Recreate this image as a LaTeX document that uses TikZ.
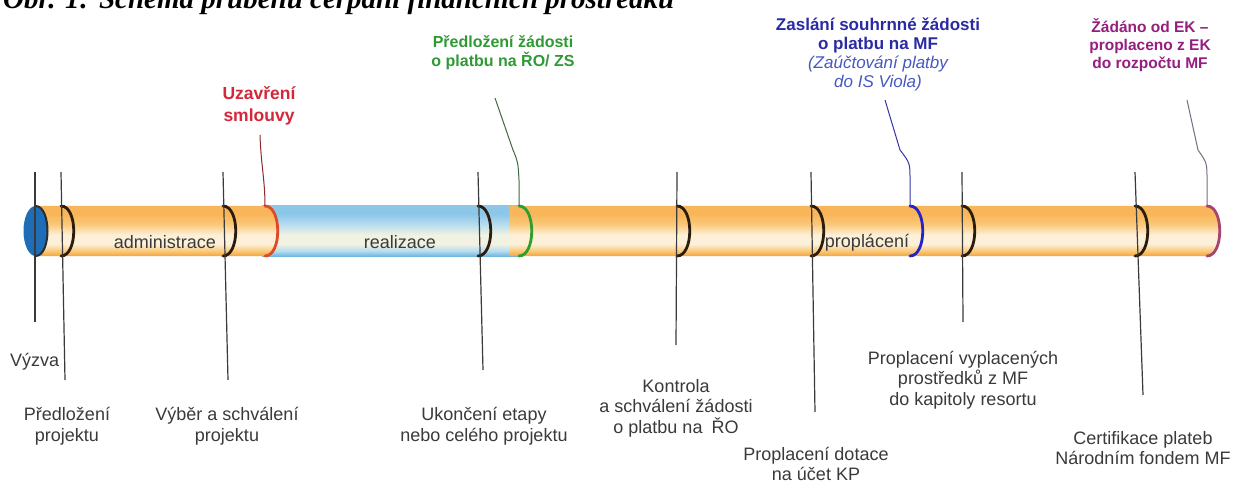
\documentclass[tikz,border=0pt]{standalone}
\usepackage{fontspec}
\setmainfont{Liberation Sans}
\newfontfamily\titlefont{Liberation Serif}
\definecolor{labgray}{HTML}{3A3A3A}
\definecolor{redlab}{HTML}{D3283A}
\definecolor{greenlab}{HTML}{2F9A35}
\definecolor{bluelab}{HTML}{2A2AA5}
\definecolor{blueit}{HTML}{4659C0}
\definecolor{maglab}{HTML}{951E7F}
\definecolor{linegray}{HTML}{3A3A3A}
\definecolor{markdark}{HTML}{2B1D0E}
\definecolor{markred}{HTML}{E04A26}
\definecolor{markgreen}{HTML}{2E9E2E}
\definecolor{markblue}{HTML}{2323C8}
\definecolor{markmag}{HTML}{A8456E}
\definecolor{capblue}{HTML}{1F6DB6}
\definecolor{otop}{HTML}{F8B55A}
\definecolor{omid}{HTML}{FAC878}
\definecolor{olight}{HTML}{FDF0D8}
\definecolor{obot}{HTML}{F4A53C}
\definecolor{btop}{HTML}{8CC7E8}
\definecolor{bmid}{HTML}{B5DCEF}
\definecolor{blight}{HTML}{F2F2E2}
\definecolor{bbot}{HTML}{72B7E0}
\definecolor{redline}{HTML}{8A2A2A}
\definecolor{greenline}{HTML}{3F6A3F}
\definecolor{blueline}{HTML}{3535A8}
\definecolor{magline}{HTML}{7A6A80}
\pgfdeclareverticalshading{orangetube}{100bp}{color(0bp)=(obot); color(25bp)=(obot); color(30bp)=(omid); color(37bp)=(olight); color(46bp)=(olight); color(57bp)=(omid); color(67bp)=(otop); color(75bp)=(otop); color(100bp)=(otop)}
\pgfdeclareverticalshading{bluetube}{100bp}{color(0bp)=(bbot); color(25bp)=(bbot); color(30bp)=(bmid); color(37bp)=(blight); color(46bp)=(blight); color(57bp)=(bmid); color(67bp)=(btop); color(75bp)=(btop); color(100bp)=(btop)}
\begin{document}
\begin{tikzpicture}[x=1pt,y=-1pt,
  toplabel/.style={align=center, inner sep=0pt, font=\bfseries\fontsize{16}{19}\selectfont},
  botlabel/.style={align=center, inner sep=0pt, text=labgray, font=\fontsize{18}{20.5}\selectfont},
  tubelabel/.style={inner sep=0pt, text=labgray, font=\fontsize{18}{20}\selectfont},
  marker/.style={line width=2.8pt, line cap=round},
  vline/.style={draw=linegray, line width=1.2pt},
  cline/.style={line width=1pt}]
\useasboundingbox (0,0) rectangle (1255,481);
\begin{scope}
\clip (0,0) rectangle (1255,481);
\fill[white] (0,0) rectangle (1255,481);
% title (cut at top)
\node[anchor=base west, inner sep=0pt, font=\titlefont\bfseries\itshape\fontsize{29}{30}\selectfont] (title) at (3,9) {Obr. 1: Schéma průběhu čerpání finančních prostředků};
% tube
\shade[shading=bluetube] (262,206) rectangle (522,256);
\shade[shading=orangetube] (35,206) -- (265,206) .. controls (282,206) and (282,256) .. (265,256) -- (35,256) -- cycle;
\shade[shading=orangetube] (509,206) -- (1207,206) .. controls (1224,206) and (1224,256) .. (1207,256) -- (509,256) -- cycle;
% left cap
\fill[capblue] (35.5,231) ellipse [x radius=12, y radius=25];
\draw[marker, markdark!80!capblue, line width=2pt] (35.5,206) .. controls (51.5,206) and (51.5,256) .. (35.5,256);
% markers
\foreach \x in {61,223,478,677,811,962,1135}
  \draw[marker, markdark] (\x,206) .. controls (\x+17,206) and (\x+17,256) .. (\x,256);
\draw[marker, markred] (265,206) .. controls (282,206) and (282,256) .. (265,256);
\draw[marker, markgreen] (519,206) .. controls (536,206) and (536,256) .. (519,256);
\draw[marker, markblue] (910,206) .. controls (927,206) and (927,256) .. (910,256);
\draw[marker, markmag] (1207,206) .. controls (1224,206) and (1224,256) .. (1207,256);
% tube texts
\node[tubelabel] (adm) at (165,242) {administrace};
\node[tubelabel] (real) at (400,242) {realizace};
\node[tubelabel] (propl) at (867,243) {proplácení};
% coordinates for vertical lines
\coordinate (t0) at (35,172);   \coordinate (b0) at (35,322);
\coordinate (t1) at (61,172);   \coordinate (b1) at (65,380);
\coordinate (t2) at (223,172);  \coordinate (b2) at (228,380);
\coordinate (t3) at (478,172);  \coordinate (b3) at (483,370);
\coordinate (t4) at (677,172);  \coordinate (b4) at (676,345);
\coordinate (t5) at (811,172);  \coordinate (b5) at (815,412);
\coordinate (t6) at (962,172);  \coordinate (b6) at (963,322);
\coordinate (t7) at (1135,172); \coordinate (b7) at (1143,395);
\foreach \i in {0,...,7} \draw[vline] (t\i) -- (b\i);
% bottom labels
\node[botlabel, anchor=west] (vyzva) at (10,362) {Výzva};
\node[botlabel] (predl) at (67,426) {Předložení\\projektu};
\node[botlabel] (vyber) at (227,426) {Výběr a schválení\\projektu};
\node[botlabel] (ukon) at (484,426) {Ukončení etapy\\nebo celého projektu};
\node[botlabel] (kontr) at (676,408) {Kontrola\\a schválení žádosti\\o platbu na\enspace ŘO};
\node[botlabel] (dot) at (816,464) {Proplacení dotace\\na účet KP};
\node[botlabel] (vypl) at (963,380) {Proplacení vyplacených\\prostředků z MF\\do kapitoly resortu};
\node[botlabel] (cert) at (1143,448) {Certifikace plateb\\Národním fondem MF};
% top labels
\node[toplabel, text=redlab, font=\bfseries\fontsize{17.5}{22}\selectfont] (uzav) at (259,106) {Uzavření\\smlouvy};
\node[toplabel, text=greenlab] (zad) at (503,53) {Předložení žádosti\\o platbu na ŘO/ ZS};
\node[toplabel, font=\fontsize{17}{19}\selectfont] (zasl) at (878,54) {\textcolor{bluelab}{\bfseries Zaslání souhrnné žádosti}\\\textcolor{bluelab}{\bfseries o platbu na MF}\\\textcolor{blueit}{\itshape (Zaúčtování platby}\\\textcolor{blueit}{\itshape do IS Viola)}};
\node[toplabel, text=maglab, font=\bfseries\fontsize{15.5}{18}\selectfont] (ek) at (1150,45) {Žádáno od EK –\\proplaceno z EK\\do rozpočtu MF};
% top connectors
\coordinate (rs) at (260,135); \coordinate (re) at (265,206);
\coordinate (gs) at (495,98);  \coordinate (ge) at (519,206);
\coordinate (bs) at (885,100); \coordinate (be) at (910,206);
\coordinate (ms) at (1187,100); \coordinate (me) at (1207,206);
\draw[cline, redline] (rs) .. controls (261,165) and (265,180) .. (re);
\draw[cline, greenline] (gs) -- (513,150) .. controls (518,162) .. (519,180) -- (ge);
\draw[cline, blueline] (bs) -- (900,150) .. controls (910,163) .. (910,180) -- (be);
\draw[cline, magline] (ms) -- (1198,150) .. controls (1207,163) .. (1207,180) -- (me);
\end{scope}
\end{tikzpicture}
\end{document}
